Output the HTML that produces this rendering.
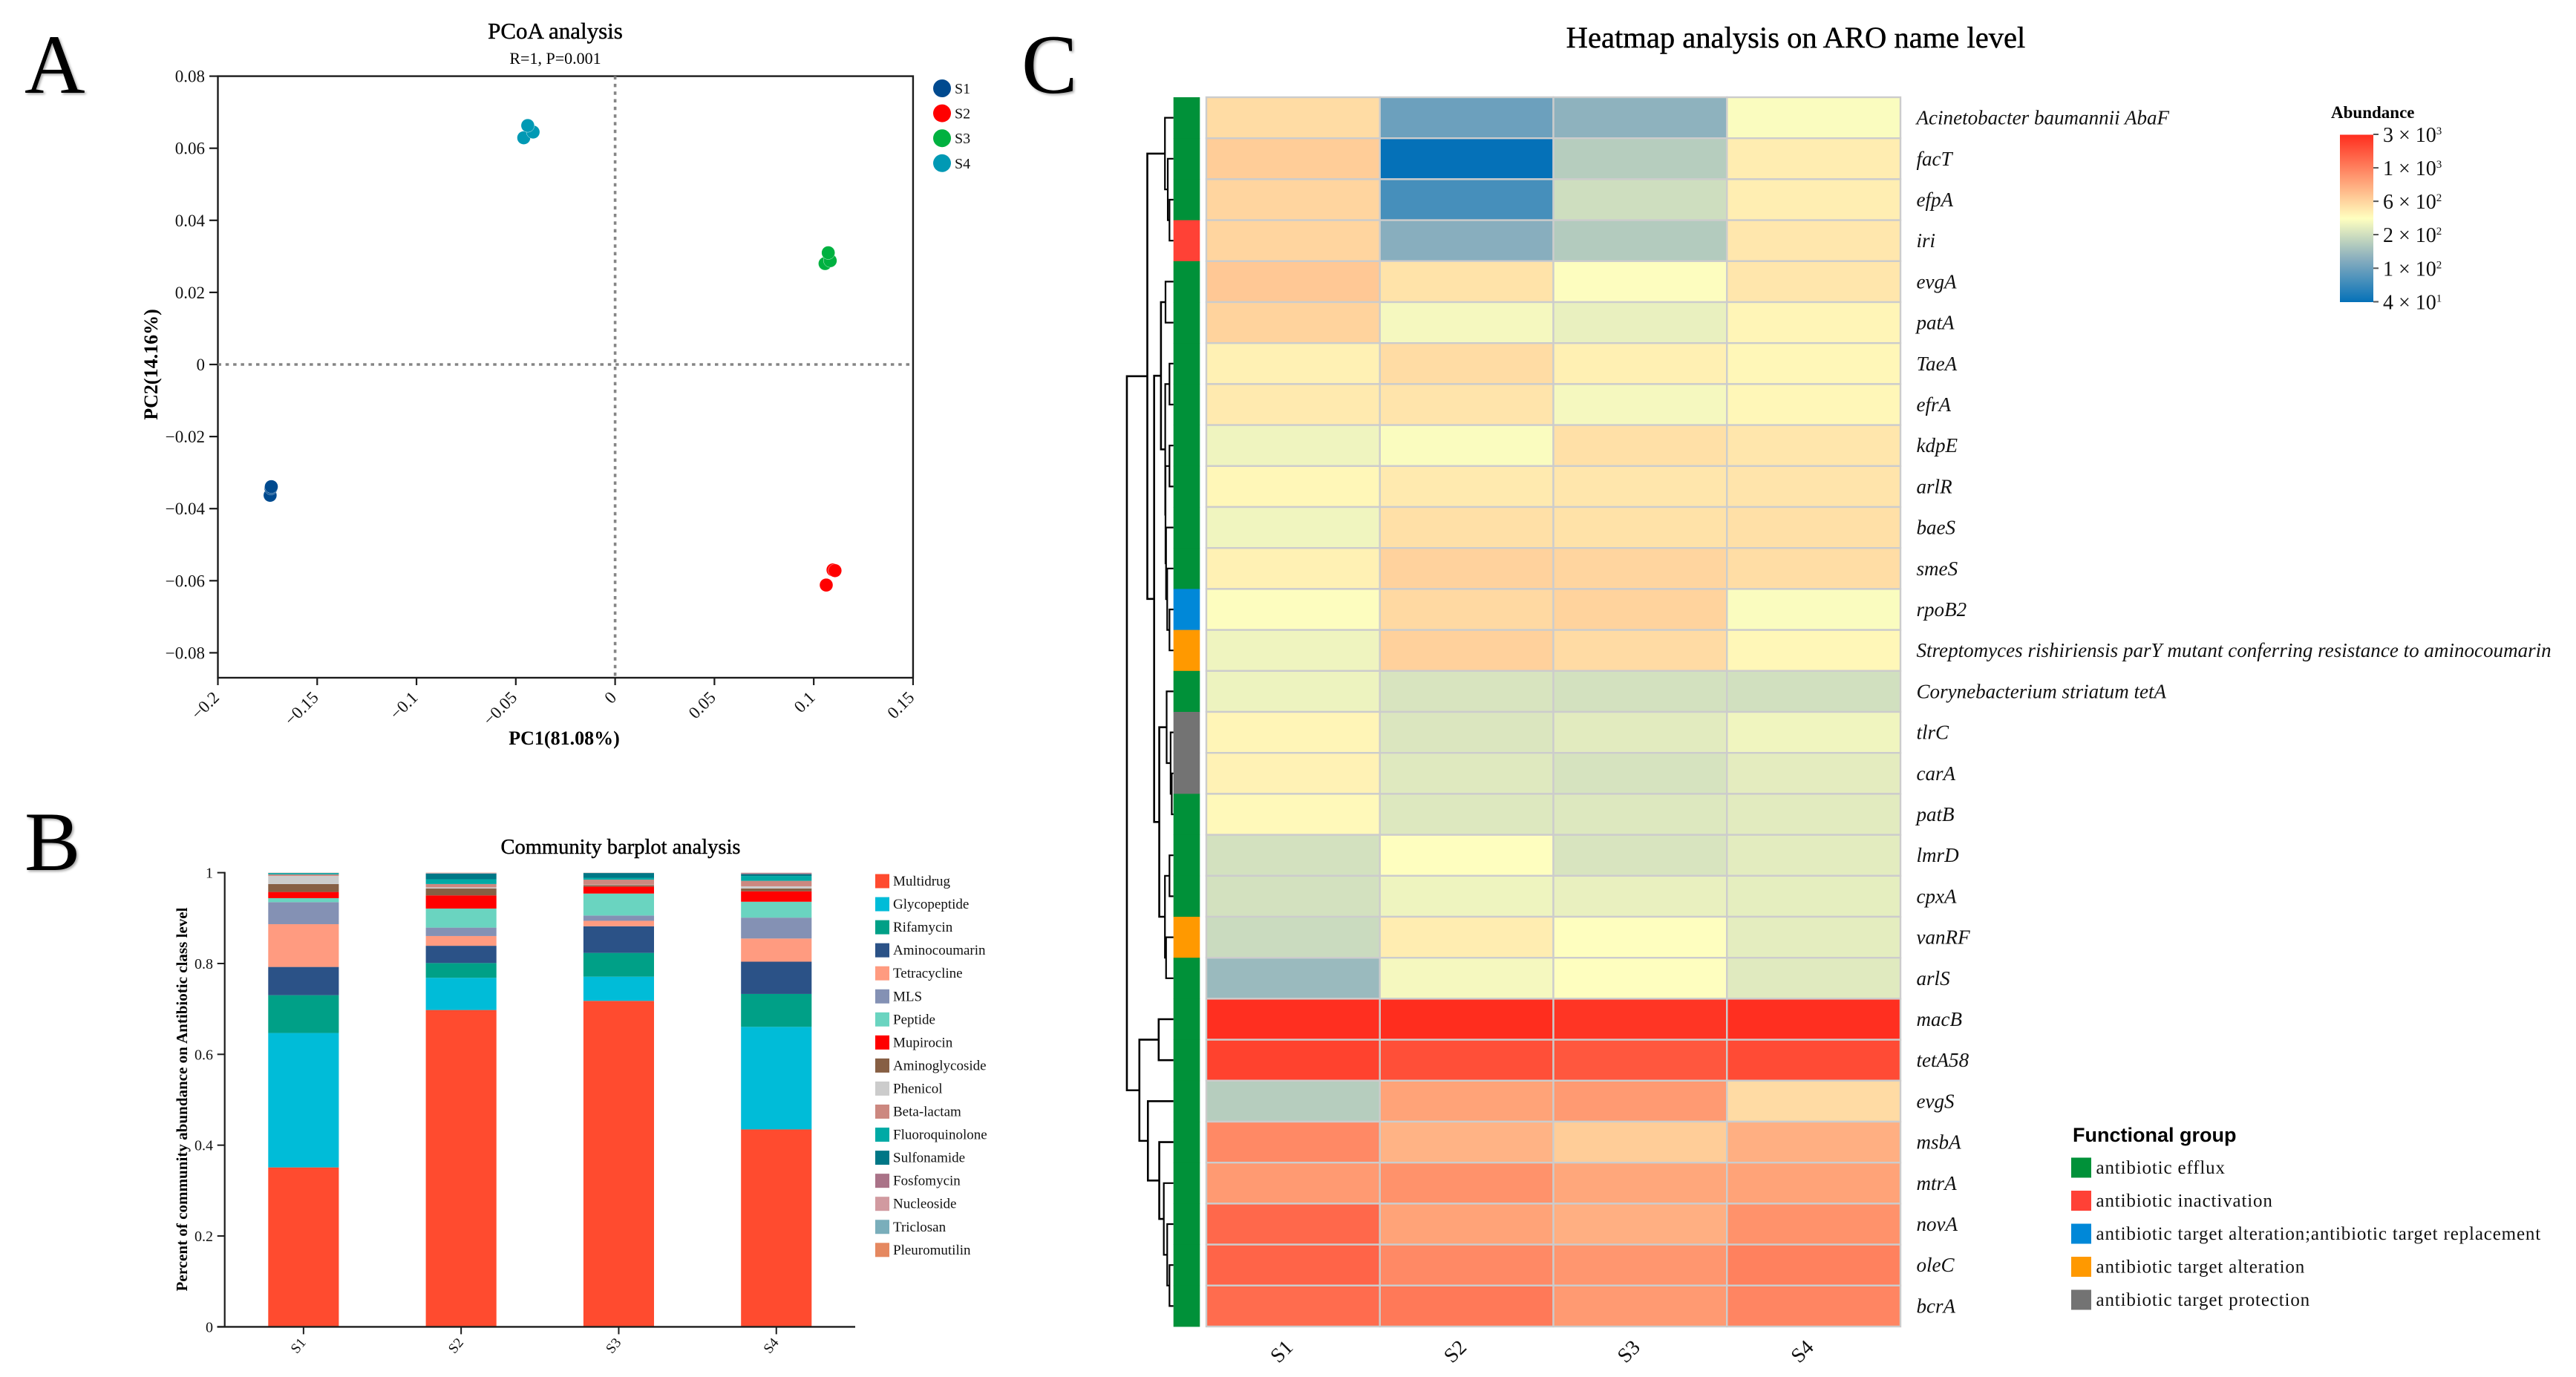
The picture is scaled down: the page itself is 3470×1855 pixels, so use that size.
<!DOCTYPE html>
<html lang="en">
<head>
<meta charset="utf-8">
<title>Antibiotic resistance figure: PCoA, barplot and heatmap</title>
<style>
html,body{margin:0;padding:0;background:#fff;}
svg{display:block;font-family:"Liberation Serif",serif;}
.letter{font-size:113px;fill:#000;filter:drop-shadow(2px 2px 1.5px rgba(0,0,0,.35));}
.heavy{stroke:#000;stroke-width:.45px;}
</style>
</head>
<body>
<svg id="figure" xmlns="http://www.w3.org/2000/svg" width="3470" height="1855" viewBox="0 0 3470 1855">
<rect width="3470" height="1855" fill="#fff"/>
<defs>
<linearGradient id="cbar" x1="0" y1="1" x2="0" y2="0">
<stop offset="0" stop-color="#0571B8"/><stop offset="0.25" stop-color="#85ACBE"/><stop offset="0.5" stop-color="#FFFFBF"/><stop offset="1" stop-color="#FF2D1E"/>
</linearGradient>
</defs>
<text class="letter" x="33" y="125">A</text>
<text class="letter" x="33" y="1172">B</text>
<text class="letter" x="1376" y="125">C</text>

<text class="heavy" x="748" y="52" font-size="31" text-anchor="middle">PCoA analysis</text>
<text x="748" y="86" font-size="22" text-anchor="middle">R=1, P=0.001</text>
<text x="760" y="1003" font-size="26" font-weight="bold" text-anchor="middle">PC1(81.08%)</text>
<text transform="translate(212,491) rotate(-90)" font-size="26" font-weight="bold" text-anchor="middle">PC2(14.16%)</text>
<g id="pcoa"></g>

<text class="heavy" x="836" y="1150" font-size="28.5" text-anchor="middle">Community barplot analysis</text>
<text transform="translate(252,1481) rotate(-90)" font-size="21" font-weight="bold" text-anchor="middle" textLength="517" lengthAdjust="spacingAndGlyphs">Percent of community abundance on Antibiotic class level</text>
<g id="bars"></g>

<text class="heavy" x="2419" y="64" font-size="40.6" text-anchor="middle">Heatmap analysis on ARO name level</text>
<g id="heat"></g>

<text x="3140" y="159" font-size="23" font-weight="bold">Abundance</text>
<g id="cbarg"></g>

<text x="2792" y="1538" font-size="27" font-weight="bold" font-family="Liberation Sans, sans-serif">Functional group</text>
<g id="fg"></g>
</svg>

<script>
/* ---------- PCoA data ---------- */
const pcoaGroups = ['S1','S2','S3','S4'];
const pcoaColors = ['#004A8F','#FF0000','#00B140','#0099B4'];
const pc1S1 = [-0.1737,-0.1733,-0.1731];
const pc2S1 = [-0.0363,-0.0343,-0.0339];
const pc1S2 = [0.1063,0.1097,0.1107];
const pc2S2 = [-0.0612,-0.0570,-0.0572];
const pc1S3 = [0.1057,0.1083,0.1073];
const pc2S3 = [0.0280,0.0288,0.0310];
const pc1S4 = [-0.0460,-0.0413,-0.0440];
const pc2S4 = [0.0629,0.0645,0.0663];
const pcoaXTicks = [-0.2,-0.15,-0.1,-0.05,0,0.05,0.1,0.15];
const pcoaXTickLabels = ['\u22120.2','\u22120.15','\u22120.1','\u22120.05','0','0.05','0.1','0.15'];
const pcoaYTicks = [0.08,0.06,0.04,0.02,0,-0.02,-0.04,-0.06,-0.08];
const pcoaYTickLabels = ['0.08','0.06','0.04','0.02','0','\u22120.02','\u22120.04','\u22120.06','\u22120.08'];

/* ---------- Barplot data ---------- */
const barSamples = ['S1','S2','S3','S4'];
const barClasses = ['Multidrug','Glycopeptide','Rifamycin','Aminocoumarin','Tetracycline','MLS','Peptide','Mupirocin','Aminoglycoside','Phenicol','Beta-lactam','Fluoroquinolone','Sulfonamide','Fosfomycin','Nucleoside','Triclosan','Pleuromutilin'];
const barColors = ['#FF4B2F','#00BCD8','#00A087','#2B5287','#FF9B80','#8491B4','#6AD4C0','#FF0000','#875F44','#CCCCCC','#CC8880','#00AAA5','#007786','#AA7388','#D19AA0','#7AAEBB','#E58860'];
const barS1 = [.351,.296,.0832,.0622,.0942,.0485,.0088,.0136,.0174,.018,.0033,.0025,.0005,.0002,.0002,.0002,.0002];
const barS2 = [.6976,.0709,.0325,.038,.0215,.0185,.042,.029,.0153,.0024,.0073,.0105,.0125,.0005,.0005,.0005,.0005];
const barS3 = [.7177,.0533,.0524,.0586,.012,.0116,.0484,.0154,.0032,.0008,.0113,.004,.0105,.0002,.0002,.0002,.0002];
const barS4 = [.4347,.2258,.0725,.071,.051,.046,.035,.023,.0063,.0047,.012,.0107,.0041,.0022,.0004,.0003,.0003];
const barYTicks = [0,0.2,0.4,0.6,0.8,1];
const barYTickLabels = ['0','0.2','0.4','0.6','0.8','1'];

/* ---------- Heatmap data ---------- */
const heatSamples = ['S1','S2','S3','S4'];
const heatGenes = ['Acinetobacter baumannii AbaF','facT','efpA','iri','evgA','patA','TaeA','efrA','kdpE','arlR','baeS','smeS','rpoB2','Streptomyces rishiriensis parY mutant conferring resistance to aminocoumarin','Corynebacterium striatum tetA','tlrC','carA','patB','lmrD','cpxA','vanRF','arlS','macB','tetA58','evgS','msbA','mtrA','novA','oleC','bcrA'];
const abundanceS1 = [496,581,534,534,607,545,400,430,300,378,304,400,339,300,296,384,394,369,235,235,216,142,2935,2420,181,1161,976,1640,1710,1568];
const abundanceS2 = [95,40,69,121,463,318,496,455,332,430,477,550,511,557,245,251,261,256,343,299,418,318,3000,2120,896,754,1064,896,1161,1378];
const abundanceS3 = [128,181,225,177,339,284,405,318,477,449,469,534,545,500,235,267,242,256,245,284,343,343,2750,1948,976,581,858,788,1019,976];
const abundanceS4 = [332,418,412,443,449,384,378,378,449,455,477,489,332,378,231,304,272,267,270,276,274,263,2935,2215,500,788,896,1064,1265,1212];
const functionalNames = ['antibiotic efflux','antibiotic inactivation','antibiotic target alteration;antibiotic target replacement','antibiotic target alteration','antibiotic target protection'];
const functionalColors = ['#009139','#FF4136','#0088D8','#FF9900','#737373'];
const geneFunctionalGroup = [0,0,0,1,0,0,0,0,0,0,0,0,2,3,0,4,4,0,0,0,3,0,0,0,0,0,0,0,0,0];
const colorbarValues = [3000,1265,534,226,95,40];
const colorbarMantissa = ['3','1','6','2','1','4'];
const colorbarExponent = ['3','3','2','2','2','1'];
/* dendrogram merges: children are leaf rows (<30) or earlier merges (30 + merge index) */
const dendroLeft   = [2,1,0,4,6,8,12,11,10,35,34,33,16,15,14,18,20,45,44,41,32,22,28,27,26,25,24,51,50];
const dendroRight  = [3,30,31,5,7,9,13,36,37,38,39,40,17,42,43,19,21,46,47,48,49,23,29,52,53,54,55,56,57];
const dendroHeight = [7,10,15,14,7,7,7,11,13,14,14.5,22,3,5,12,7,13,15,25,34,46,26,7,11,17,25,45,60,82];

/* ---------- helpers ---------- */
const NS = 'http://www.w3.org/2000/svg';
function mk(tag, attrs, parent, txt){
  const el = document.createElementNS(NS, tag);
  for (const k in attrs) el.setAttribute(k, attrs[k]);
  if (txt !== undefined) el.textContent = txt;
  parent.appendChild(el);
  return el;
}
const AXIS = '#1c1c1c';

/* ---------- PCoA ---------- */
(function(){
  const g = document.getElementById('pcoa');
  const xS = v => 828.6 + v * 2675.5;
  const yS = v => 491 - v * 4855;
  const frame = mk('rect',{x:xS(-0.2),y:yS(0.08),width:xS(0.15)-xS(-0.2),height:913-yS(0.08),fill:'none',stroke:AXIS,'stroke-width':2.4},g);
  
  
  const hz = mk('line',{x1:xS(-0.2),x2:xS(0.15),y1:yS(0),y2:yS(0),stroke:'#858585','stroke-width':3.6,'stroke-dasharray':'4.5 5.8'},g);
  
  
  const vt = mk('line',{x1:xS(0),x2:xS(0),y1:yS(0.08),y2:913,stroke:'#858585','stroke-width':3.6,'stroke-dasharray':'4.5 5.8'},g);
  
  
  pcoaXTicks.forEach((t,i)=>{
    const tk = mk('line',{x1:xS(t),x2:xS(t),y1:913,y2:923,stroke:AXIS,'stroke-width':2.2},g);
    
    
    const lb = mk('text',{transform:`translate(${xS(t)+3},941) rotate(-45)`,'font-size':23,'text-anchor':'end',fill:'#111'},g,pcoaXTickLabels[i]);
    
    
  });
  pcoaYTicks.forEach((t,i)=>{
    const tk = mk('line',{x1:282,x2:293,y1:yS(t),y2:yS(t),stroke:AXIS,'stroke-width':2.2},g);
    
    
    const lb = mk('text',{x:276,y:yS(t)+8,'font-size':23,'text-anchor':'end',fill:'#111'},g,pcoaYTickLabels[i]);
    
    
  });
  const xs = [pc1S1,pc1S2,pc1S3,pc1S4], ys = [pc2S1,pc2S2,pc2S3,pc2S4];
  pcoaGroups.forEach((name,i)=>{
    xs[i].forEach((v,j)=>{
      const p = mk('circle',{cx:xS(v),cy:yS(ys[i][j]),r:9,fill:pcoaColors[i],stroke:'#fff','stroke-width':0.4},g);
      
      
    });
    const m = mk('circle',{cx:1269,cy:119+i*33.6,r:12,fill:pcoaColors[i]},g);
    
    
    const l = mk('text',{x:1286,y:126+i*33.6,'font-size':20,fill:'#111'},g,name);
    
    
  });
})();

/* ---------- Barplot ---------- */
(function(){
  const g = document.getElementById('bars');
  const yS = v => 1787.4 - v * 611.8;
  const band = 212.3, x0 = 302.7;
  const cx = i => x0 + band * (i + 0.5);
  const bw = band * 0.448;
  const series = [barS1,barS2,barS3,barS4];
  series.forEach((vals,i)=>{
    let acc = 0;
    vals.forEach((v,k)=>{
      const r = mk('rect',{x:cx(i)-bw/2,y:yS(acc+v),width:bw,height:yS(acc)-yS(acc+v),fill:barColors[k]},g);
      
      
      acc += v;
    });
    const tk = mk('line',{x1:cx(i),x2:cx(i),y1:yS(0),y2:yS(0)+10,stroke:AXIS,'stroke-width':2},g);
    
    
    const lb = mk('text',{transform:`translate(${cx(i)+4},1809) rotate(-50)`,'font-size':19,'text-anchor':'end',fill:'#111'},g,barSamples[i]);
    
    
  });
  const ya = mk('line',{x1:x0,x2:x0,y1:yS(1)-1,y2:yS(0),stroke:AXIS,'stroke-width':2.2},g);
  
  
  const xa = mk('line',{x1:292.5,x2:1152,y1:yS(0),y2:yS(0),stroke:AXIS,'stroke-width':2.4},g);
  
  
  barYTicks.forEach((t,i)=>{
    const tk = mk('line',{x1:292.7,x2:x0,y1:yS(t),y2:yS(t),stroke:AXIS,'stroke-width':2},g);
    
    
    const lb = mk('text',{x:287,y:yS(t)+7,'font-size':20,'text-anchor':'end',fill:'#111'},g,barYTickLabels[i]);
    
    
  });
  barClasses.forEach((c,i)=>{
    const y = 1187 + i * 31.05;
    const s = mk('rect',{x:1179,y:y-9.5,width:19,height:19,fill:barColors[i]},g);
    
    
    const l = mk('text',{x:1203,y:y+6,'font-size':19,fill:'#111'},g,c);
    
    
  });
})();

/* ---------- Heatmap ---------- */
(function(){
  const g = document.getElementById('heat');
  const top = 131, rowH = 55.2, left = 1625, colW = 233.75;
  const rowY = i => top + i * rowH;
  const colX = j => left + j * colW;
  const logScale = v => Math.log(v/40) / Math.log(3000/40);
  function lerp(a,b,t){return Math.round(a+(b-a)*t);}
  const rampStops = [0,0.25,0.5,1];
  const rampColors = [[5,113,184],[133,172,190],[255,255,191],[255,45,30]];
  function colour(v){
    const t = Math.max(0,Math.min(1,logScale(v)));
    let k = 0;
    while (k < rampStops.length-2 && t > rampStops[k+1]) k++;
    const u = (t-rampStops[k])/(rampStops[k+1]-rampStops[k]);
    const a = rampColors[k], b = rampColors[k+1];
    return `rgb(${lerp(a[0],b[0],u)},${lerp(a[1],b[1],u)},${lerp(a[2],b[2],u)})`;
  }
  const cols = [abundanceS1,abundanceS2,abundanceS3,abundanceS4];
  cols.forEach((vals,j)=>{
    vals.forEach((v,i)=>{
      const c = mk('rect',{x:colX(j),y:rowY(i),width:colW,height:rowH,fill:colour(v),stroke:'#CCCCCC','stroke-width':2.4},g);
      
      
    });
    const lb = mk('text',{transform:`translate(${colX(j)+colW/2-9},1827) rotate(-45)`,'font-size':28,'text-anchor':'middle',fill:'#111'},g,heatSamples[j]);
    
    
  });
  heatGenes.forEach((name,i)=>{
    const a = mk('rect',{x:1580.7,y:rowY(i),width:35.6,height:rowH+0.4,fill:functionalColors[geneFunctionalGroup[i]]},g);
    
    
    const l = mk('text',{x:2581.5,y:rowY(i)+rowH/2+9,'font-size':27.05,'font-style':'italic',fill:'#111'},g,name);
    
    
  });
  /* dendrogram */
  const dendroX = d => 1580.7 - d / 1.307;
  const nodeY = [], nodeD = [];
  heatGenes.forEach((_,i)=>{ nodeY[i] = rowY(i)+rowH/2; nodeD[i] = 0; });
  dendroHeight.forEach((d,m)=>{
    const a = dendroLeft[m], b = dendroRight[m];
    const p = mk('path',{d:`M${dendroX(nodeD[a])} ${nodeY[a]}H${dendroX(d)}V${nodeY[b]}H${dendroX(nodeD[b])}`,fill:'none',stroke:'#000','stroke-width':d>20?2.6:2.2},g);
    
    
    nodeY[30+m] = (nodeY[a]+nodeY[b])/2;
    nodeD[30+m] = d;
  });

  /* colorbar */
  const cg = document.getElementById('cbarg');
  const cbY = v => 406.5 - logScale(v) * 225.5;
  const bar = mk('rect',{x:3152,y:cbY(3000)+0.5,width:45,height:cbY(40)-cbY(3000),fill:'url(#cbar)'},cg);
  
  
  colorbarValues.forEach((v,i)=>{
    const y = cbY(v);
    const tk = mk('line',{x1:3197,x2:3204,y1:y,y2:y,stroke:'#555','stroke-width':2},cg);
    
    
    const lb = mk('text',{x:3210,y:y+10,'font-size':28,fill:'#111'},cg);
    
    
    mk('tspan',{},lb,colorbarMantissa[i]+' \u00D7 10');
    mk('tspan',{dy:-10,'font-size':15},lb,colorbarExponent[i]);
  });

  /* functional legend */
  const fg = document.getElementById('fg');
  functionalNames.forEach((n,i)=>{
    const y = 1573 + i * 44.5;
    const s = mk('rect',{x:2790,y:y-13.5,width:27,height:27,fill:functionalColors[i]},fg);
    
    
    const l = mk('text',{x:2823.5,y:y+8,'font-size':25,'letter-spacing':'0.85',fill:'#111'},fg,n);
    
    
  });
})();
</script>
</body>
</html>
